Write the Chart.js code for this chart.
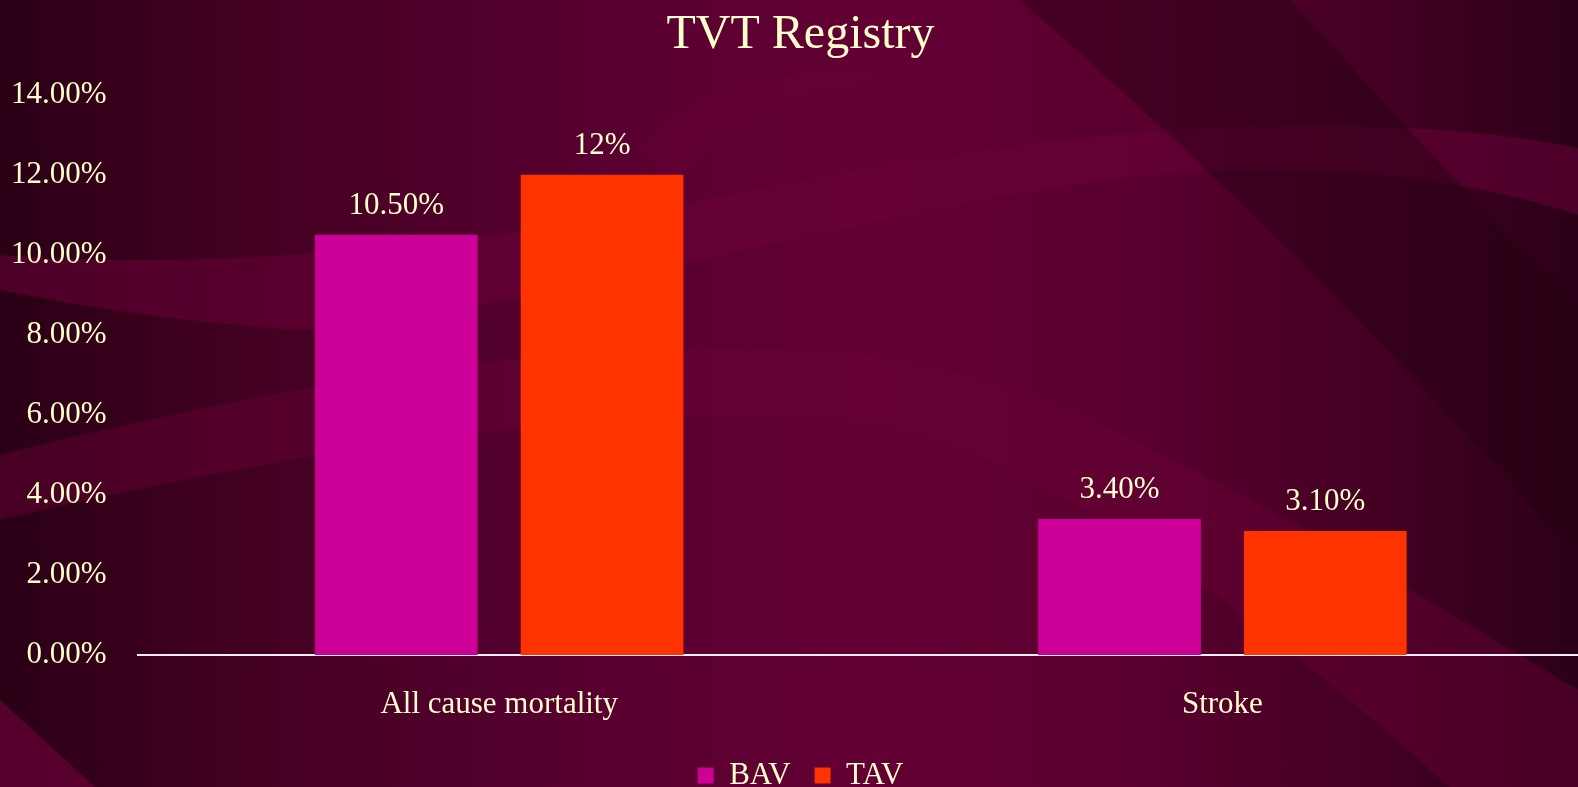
<!DOCTYPE html>
<html>
<head>
<meta charset="utf-8">
<script src="https://cdn.jsdelivr.net/npm/chart.js@4/dist/chart.umd.min.js"></script>
<style>
  html, body { margin: 0; padding: 0; overflow: hidden; }
  body { width: 1578px; height: 787px; background: #4a0028; }
  #bg { position: absolute; left: 0; top: 0; }
  #wrap { position: absolute; left: 0; top: 0; width: 1578px; height: 801px; }
</style>
</head>
<body>
<svg id="bg" width="1578" height="787" xmlns="http://www.w3.org/2000/svg">
  <defs>
    <linearGradient id="base" x1="0" y1="0" x2="1" y2="0">
      <stop offset="0" stop-color="#2a0015"/>
      <stop offset="0.15" stop-color="#420020"/>
      <stop offset="0.35" stop-color="#560030"/>
      <stop offset="0.55" stop-color="#630033"/>
      <stop offset="0.72" stop-color="#5a002f"/>
      <stop offset="0.88" stop-color="#420022"/>
      <stop offset="1" stop-color="#2c0017"/>
    </linearGradient>
  </defs>
  <rect width="1578" height="787" fill="url(#base)"/>
  <path d="M0,255 C200,270 400,250 600,220 C800,180 1000,140 1200,128 C1400,122 1500,132 1578,148 L1578,215 C1450,172 1300,162 1150,175 C900,200 600,300 300,330 C150,320 50,300 0,290 Z" fill="#6a0038" fill-opacity="0.55"/>
  <path d="M1020,0 L1290,0 C1400,120 1500,230 1578,300 L1578,560 C1450,410 1260,210 1020,0 Z" fill="#260012" fill-opacity="0.45"/>
  <path d="M0,455 C300,380 600,330 870,355 C1060,380 1260,500 1578,690 L1578,787 L1450,787 C1250,610 1050,450 850,420 C600,400 300,450 0,520 Z" fill="#6a0038" fill-opacity="0.45"/>
  <path d="M0,700 L0,787 L95,787 Z" fill="#6a0038" fill-opacity="0.7"/>
  <path d="M640,150 C700,80 800,60 900,80 C760,90 700,140 680,190 Z" fill="#6a0038" fill-opacity="0.35"/>
</svg>
<div id="wrap"><canvas id="chart"></canvas></div>
<script>
const categories = ["All cause mortality", "Stroke"];
const seriesNames = ["BAV", "TAV"];
const bavValues = [0.105, 0.034];
const tavValues = [0.12, 0.031];
const bavLabels = ["10.50%", "3.40%"];
const tavLabels = ["12%", "3.10%"];
const yTicks = [0, 0.02, 0.04, 0.06, 0.08, 0.10, 0.12, 0.14];

const textColor = "#FFFFCC";
const fontFamily = "'Liberation Serif', 'Times New Roman', serif";

// value labels above each bar
const barLabels = {
    id: "barLabels",
    afterDatasetsDraw(chart) {
        const ctx = chart.ctx;
        ctx.save();
        ctx.fillStyle = textColor;
        ctx.font = "31px " + fontFamily;
        ctx.textAlign = "center";
        ctx.textBaseline = "middle";
        chart.data.datasets.forEach((ds, i) => {
            chart.getDatasetMeta(i).data.forEach((bar, j) => {
                ctx.fillText(ds.valueLabels[j], bar.x, bar.y - 29);
            });
        });
        ctx.restore();
    }
};

// the category axis runs a little past the right edge in the original
const stretchX = {
    id: "stretchX",
    afterLayout(chart) {
        const x = chart.scales.x;
        x.right += 6;
        x.width += 6;
        x.configure();
    }
};

new Chart(document.getElementById("chart"), {
    type: "bar",
    data: {
        labels: categories,
        datasets: [
            { label: seriesNames[0], data: bavValues, valueLabels: bavLabels, backgroundColor: "#CC0099" },
            { label: seriesNames[1], data: tavValues, valueLabels: tavLabels, backgroundColor: "#FF3300" },
        ],
    },
    options: {
        responsive: true,
        maintainAspectRatio: false,
        animation: false,
        layout: { padding: { left: 10, right: -13, top: 0, bottom: 0 } },
        datasets: { bar: { categoryPercentage: 0.569, barPercentage: 0.791 } },
        plugins: {
            title: {
                display: true,
                text: "TVT Registry",
                color: textColor,
                font: { family: fontFamily, size: 48, weight: "normal" },
                padding: { top: 7, bottom: 30 },
            },
            legend: {
                position: "bottom",
                labels: {
                    color: textColor,
                    font: { family: fontFamily, size: 31 },
                    boxWidth: 16,
                    boxHeight: 16,
                    padding: 24,
                },
            },
            tooltip: { enabled: false },
        },
        scales: {
            x: {
                grid: { display: false, drawTicks: false },
                border: { display: true, color: "#F4EEF0", width: 2 },
                afterFit(scale) { scale.height -= 19; },
                ticks: {
                    color: textColor,
                    padding: 17,
                    font: { family: fontFamily, size: 31, lineHeight: 2.13 },
                },
            },
            y: {
                min: 0,
                max: 0.14,
                afterBuildTicks(axis) { axis.ticks = yTicks.map(v => ({ value: v })); },
                afterFit(scale) { scale.width -= 30; },
                grid: { display: false, drawTicks: false },
                border: { display: false },
                ticks: {
                    color: textColor,
                    padding: 31,
                    font: { family: fontFamily, size: 31 },
                    callback: v => (v * 100).toFixed(2) + "%",
                },
            },
        },
    },
    plugins: [barLabels, stretchX],
});
</script>
</body>
</html>
